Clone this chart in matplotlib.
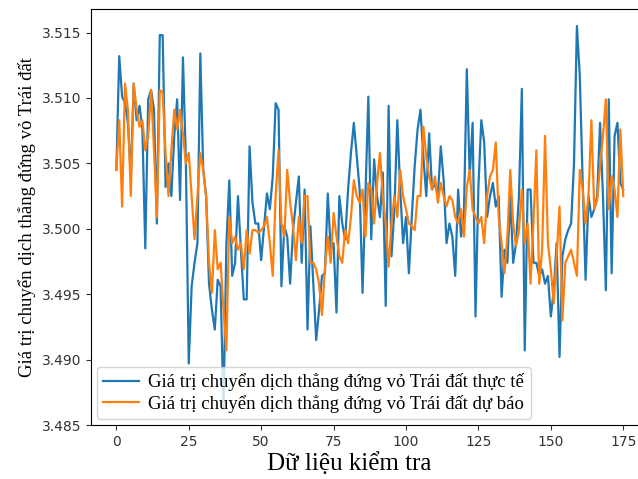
import matplotlib
matplotlib.use("Agg")
import matplotlib.pyplot as plt
import numpy as np

# Measured (actual) vertical crustal displacement on the test set
actual = [
    3.5045, 3.5132, 3.5101, 3.5096, 3.5081, 3.5040, 3.5111, 3.5083, 3.5094, 3.5076,
    3.4985, 3.5099, 3.5106, 3.5091, 3.5004, 3.5148, 3.5148, 3.5032, 3.5050, 3.5025,
    3.5071, 3.5099, 3.5022, 3.5131, 3.5053, 3.4897, 3.4956, 3.4974, 3.4989, 3.5134,
    3.5045, 3.5025, 3.4958, 3.4938, 3.4923, 3.4961, 3.4956, 3.4862, 3.4989, 3.5037,
    3.4964, 3.4974, 3.5025, 3.4984, 3.4946, 3.4946, 3.5063, 3.5020, 3.5004, 3.5004,
    3.4976, 3.5002, 3.5027, 3.5015, 3.5040, 3.5096, 3.5091, 3.4956, 3.5002, 3.4994,
    3.4958, 3.4999, 3.5020, 3.5040, 3.4974, 3.5030, 3.4923, 3.5002, 3.4958, 3.4915,
    3.4938, 3.4964, 3.4966, 3.5027, 3.4984, 3.4989, 3.4936, 3.5025, 3.5004, 3.4992,
    3.5030, 3.5058, 3.5081, 3.5055, 3.5030, 3.4951, 3.5025, 3.5101, 3.4992, 3.5053,
    3.5025, 3.5009, 3.5043, 3.4941, 3.5094, 3.4979, 3.5015, 3.5083, 3.5030, 3.4989,
    3.5009, 3.4966, 3.5009, 3.5048, 3.5076, 3.5091, 3.5055, 3.5025, 3.5073, 3.5030,
    3.5035, 3.5025, 3.5063, 3.5037, 3.4989, 3.5004, 3.4994, 3.4964, 3.5030, 3.4994,
    3.5012, 3.5122, 3.5040, 3.5081, 3.4933, 3.5032, 3.5083, 3.5066, 3.5009, 3.5025,
    3.5035, 3.5017, 3.5025, 3.4948, 3.4984, 3.4974, 3.5025, 3.4974, 3.4989, 3.5025,
    3.5107, 3.4907, 3.5030, 3.5030, 3.4974, 3.4974, 3.4964, 3.4969, 3.4958, 3.4964,
    3.4933, 3.4953, 3.4989, 3.4902, 3.4979, 3.4992, 3.4999, 3.5004, 3.5050, 3.5155,
    3.5117, 3.5035, 3.4961, 3.5025, 3.5009, 3.5015, 3.5025, 3.5081, 3.5025, 3.4953,
    3.5099, 3.4966, 3.5071, 3.5081, 3.5035, 3.5030,
]

# Model forecast for the same samples
forecast = [
    3.5045, 3.5083, 3.5017, 3.5111, 3.5091, 3.5025, 3.5111, 3.5091, 3.5078, 3.5083,
    3.5060, 3.5071, 3.5106, 3.5060, 3.5009, 3.5106, 3.5104, 3.5058, 3.5025, 3.5060,
    3.5091, 3.5076, 3.5091, 3.5073, 3.5050, 3.5058, 3.5025, 3.4992, 3.5025, 3.5058,
    3.5045, 3.5025, 3.4974, 3.4951, 3.4999, 3.4969, 3.4974, 3.4938, 3.4907, 3.5009,
    3.4989, 3.4994, 3.4984, 3.4989, 3.4969, 3.4999, 3.4981, 3.4999, 3.4999, 3.4997,
    3.4999, 3.5002, 3.5009, 3.4989, 3.4964, 3.5025, 3.5060, 3.5004, 3.4994, 3.5045,
    3.5020, 3.5002, 3.4976, 3.5009, 3.4989, 3.5025, 3.5025, 3.4974, 3.4974, 3.4969,
    3.4958, 3.4934, 3.4969, 3.4994, 3.4974, 3.5012, 3.4994, 3.4979, 3.4974, 3.4999,
    3.4989, 3.5009, 3.5037, 3.5025, 3.5020, 3.5030, 3.4994, 3.5035, 3.5030, 3.5004,
    3.5035, 3.5058, 3.5025, 3.5004, 3.4971, 3.5004, 3.5025, 3.5009, 3.5045, 3.5025,
    3.5015, 3.5004, 3.5002, 3.4999, 3.5025, 3.5025, 3.5078, 3.5055, 3.5040, 3.5030,
    3.5040, 3.5020, 3.5035, 3.5025, 3.5017, 3.5025, 3.5022, 3.5009, 3.5004, 3.5015,
    3.4994, 3.5032, 3.5045, 3.5015, 3.5009, 3.5004, 3.5009, 3.4989, 3.5025, 3.5040,
    3.5045, 3.5066, 3.5009, 3.4989, 3.4966, 3.4994, 3.5045, 3.5004, 3.4987, 3.4999,
    3.5030, 3.4989, 3.5004, 3.4958, 3.5004, 3.5060, 3.4958, 3.4984, 3.5071, 3.4989,
    3.4969, 3.4943, 3.4979, 3.5017, 3.4930, 3.4974, 3.4979, 3.4984, 3.4974, 3.4964,
    3.5045, 3.5030, 3.5004, 3.5025, 3.5083, 3.5015, 3.5022, 3.5048, 3.5071, 3.5099,
    3.5015, 3.5040, 3.5030, 3.5009, 3.5076, 3.5025,
]

label_actual = "Giá trị chuyển dịch thẳng đứng vỏ Trái đất thực tế"
label_forecast = "Giá trị chuyển dịch thẳng đứng vỏ Trái đất dự báo"
x_label = "Dữ liệu kiểm tra"
y_label = "Giá trị chuyển dịch thẳng đứng vỏ Trái đất"
y_ticks = [3.485, 3.490, 3.495, 3.500, 3.505, 3.510, 3.515]
x_ticks = [0, 25, 50, 75, 100, 125, 150, 175]

serif = ["Liberation Serif", "DejaVu Serif"]

fig = plt.figure(figsize=(6.38, 4.79), dpi=100)
ax = fig.add_axes([0.1426, 0.1127, 0.874, 0.8685])

idx = np.arange(len(actual))
ax.plot(idx, actual, color="#1f77b4", lw=1.6, label=label_actual)
ax.plot(idx, forecast, color="#ff7f0e", lw=1.6, label=label_forecast)

ax.set_xlim(-8.75, 183.75)
ax.set_ylim(3.485, 3.5168)
ax.set_yticks(y_ticks)
ax.set_yticklabels([f"{v:.3f}" for v in y_ticks])
ax.set_xticks(x_ticks)
ax.tick_params(labelsize=10, colors="#333333")

ax.set_xlabel(x_label, fontsize=18, family=serif)
ax.xaxis.set_label_coords(0.463, -0.065)
ax.set_ylabel(y_label, fontsize=13.5, family=serif)

ax.legend(loc="lower left", prop={"family": serif, "size": 13.5},
          borderaxespad=0.3, handlelength=1.9, handletextpad=0.5,
          labelspacing=0.2, borderpad=0.35, framealpha=0.8)

fig.savefig("out.png", dpi=100)
